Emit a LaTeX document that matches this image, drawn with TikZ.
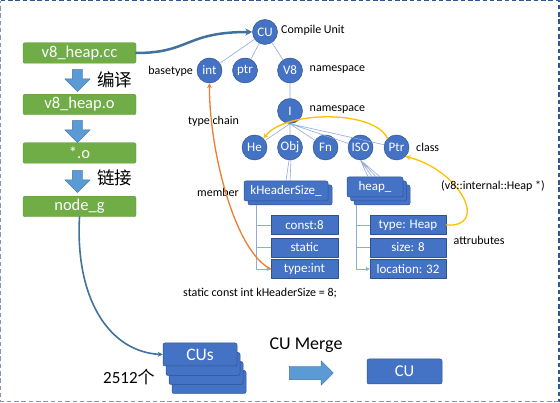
\documentclass[tikz,border=0pt]{standalone}
\usepackage{fontspec}
\setmainfont{Carlito}
\newfontfamily\cjk{Noto Sans CJK SC}
\usetikzlibrary{shapes.arrows,arrows.meta}

\definecolor{cuBlue}{HTML}{4472C4}
\definecolor{cuEdge}{HTML}{2F528F}
\definecolor{fileGreen}{HTML}{70AD47}
\definecolor{fileEdge}{HTML}{5E9A3A}
\definecolor{arrowBlue}{HTML}{5B9BD5}
\definecolor{arrowEdge}{HTML}{41719C}
\definecolor{treeBlue}{HTML}{8FAADC}
\definecolor{chainOrange}{HTML}{ED7D31}
\definecolor{ptrYellow}{HTML}{FFC000}
\definecolor{frameBlue}{HTML}{2F5597}
\definecolor{frameGrey}{HTML}{8497B0}

\tikzset{
  srcfile/.style={draw=fileEdge, fill=fileGreen, rounded corners=2pt, minimum width=113pt,
    minimum height=20.5pt, inner sep=0pt, text=white, font=\fontsize{16.5}{18}\selectfont},
  buildarrow/.style={single arrow, shape border rotate=270, draw=arrowEdge, fill=arrowBlue,
    line width=0.4pt, inner sep=5pt, single arrow head extend=7.5pt, minimum height=22pt},
  mergearrow/.style={single arrow, draw=arrowEdge, fill=arrowBlue, line width=0.4pt,
    inner sep=6.5pt, single arrow head extend=5.5pt, minimum height=44pt},
  dwarf/.style={circle, draw=cuEdge, fill=cuBlue, line width=0.5pt, minimum size=25pt,
    inner sep=0pt, text=white, font=\fontsize{13}{14}\selectfont},
  stackbox/.style={draw=cuEdge, fill=cuBlue, rounded corners=2pt, line width=0.5pt,
    inner sep=0pt, text=white, font=\fontsize{13}{14}\selectfont},
  attrbox/.style={draw=cuEdge, fill=cuBlue, line width=0.5pt, minimum height=19pt,
    inner sep=0pt, text=white, font=\fontsize{13}{14}\selectfont},
  treeline/.style={draw=treeBlue, line width=0.6pt},
  note/.style={anchor=west, inner sep=0pt},
}

\begin{document}
\begin{tikzpicture}[x=1pt, y=-1pt, font=\fontsize{12}{14}\selectfont, line join=round,
  line cap=round, >={Stealth[length=5pt,width=5pt]}]
\useasboundingbox (0,0) rectangle (560,403);

% frame
\draw[frameBlue, line width=1.4pt, line cap=butt, dash pattern=on 4.5pt off 2.8pt]
  (0.8,0.8) -- (558.8,0.8) -- (558.8,401.6);
\draw[frameGrey, line width=1.4pt, line cap=butt, dash pattern=on 4.5pt off 2.8pt]
  (558.8,401.6) -- (0.8,401.6) -- (0.8,0.8);

% build chain
\node[srcfile] (srcCC) at (79.5,53) {v8\_heap.cc};
\node[srcfile] (srcO) at (79.5,104.5) {v8\_heap.o};
\node[srcfile] (srcAll) at (79.5,153) {*.o};
\node[srcfile] (srcBin) at (79.5,206.5) {node\_g};
\node[buildarrow] (step1) at (77.5,78) {};
\node[buildarrow] (step2) at (77.5,129) {};
\node[buildarrow] (step3) at (77.5,179) {};
\node[note, font={\cjk\fontsize{17.5}{19}\selectfont}] (compileTxt) at (97,80) {编译};
\node[note, font={\cjk\fontsize{17.5}{19}\selectfont}] (linkTxt) at (97,178) {链接};

% DIE tree
\node[dwarf] (cu) at (265,32) {CU};
\node[dwarf] (basInt) at (209.5,70.5) {int};
\node[dwarf] (basPtr) at (245,70.5) {ptr};
\node[dwarf] (nsV8) at (290,70.5) {V8};
\node[dwarf] (nsI) at (290,111) {I};
\node[dwarf] (clsHe) at (254.5,147.5) {He};
\node[dwarf] (clsObj) at (290,147.5) {Obj};
\node[dwarf] (clsFn) at (325.5,147.5) {Fn};
\node[dwarf] (clsISO) at (360.5,147.5) {ISO};
\node[dwarf] (clsPtr) at (396.5,147.5) {Ptr};

\node[note] (cuTxt) at (281,30.5) {Compile Unit};
\node[note, anchor=east] (baseTxt) at (193,71) {basetype};
\node[note] (ns1Txt) at (309.5,69.5) {namespace};
\node[note] (ns2Txt) at (309.5,109.5) {namespace};
\node[note] (clsTxt) at (416,147) {class};
\node[note] (chainTxt) at (188,121) {type chain};
\node[note] (memTxt) at (197,192) {member};

\draw[treeline] (cu) -- (basInt) (cu) -- (basPtr) (cu) -- (nsV8) (nsV8) -- (nsI);
\draw[treeline] (nsI.south) -- (clsHe) (nsI.south) -- (clsObj) (nsI.south) -- (clsFn)
  (nsI.south) -- (clsISO) (nsI.south) -- (clsPtr);

% members
\node[stackbox, minimum width=84pt, minimum height=20pt] (memK1) at (290,195) {};
\node[stackbox, minimum width=84pt, minimum height=20pt] (memK) at (286,191) {kHeaderSize\_};
\node[stackbox, minimum width=56pt, minimum height=20pt] (memH2) at (382,195) {};
\node[stackbox, minimum width=56pt, minimum height=20pt] (memH1) at (378.5,191) {};
\node[stackbox, minimum width=56pt, minimum height=20pt] (memH) at (375,187) {heap\_};

\draw[treeline] ([xshift=-1pt]clsObj.south) -- ([xshift=0pt]memK.north)
  ([xshift=1pt]clsObj.south) -- ([xshift=4pt]memK.north);
\draw[treeline] (clsISO.south) -- ([xshift=-7pt]memH.north) (clsISO.south) -- ([xshift=-3pt]memH.north)
  (clsISO.south) -- ([xshift=1pt]memH.north) (clsISO.south) -- ([xshift=5pt]memH.north);

% attributes
\node[attrbox, minimum width=67pt] (attConst) at (304.5,225) {const:8};
\node[attrbox, minimum width=67pt] (attStatic) at (304.5,247.5) {static};
\node[attrbox, minimum width=67pt] (attType) at (304.5,269) {type:int};
\node[attrbox, minimum width=76pt] (attHType) at (408,225) {type: Heap};
\node[attrbox, minimum width=76pt] (attHSize) at (408,247.5) {size: 8};
\node[attrbox, minimum width=76pt] (attHLoc) at (408,269) {location: 32};

\coordinate (kTrunk) at ([xshift=9pt]memK1.south west);
\coordinate (hTrunk) at ([xshift=3pt]memH2.south west);
\draw[treeline] (kTrunk) |- (attConst.west) (kTrunk) |- (attStatic.west);
\draw[treeline, -{Triangle[length=4pt,width=4pt]}] (kTrunk) |- (attType.west);
\draw[treeline] (hTrunk) |- (attHType.west) (hTrunk) |- (attHSize.west);
\draw[treeline, -{Triangle[length=4pt,width=4pt]}] (hTrunk) |- (attHLoc.west);

\node[note] (attrTxt) at (453.5,240) {attrubutes};
\node[note] (declTxt) at (183,293) {static const int kHeaderSize = 8;};

% links
\draw[chainOrange, line width=1.3pt, ->] (attType.west) .. controls (235,252) and (209,150) .. (basInt.south);
\draw[ptrYellow, line width=1.3pt, ->] (clsPtr.north west) .. controls (375,110) and (285,110) .. (clsHe.north east);
\draw[ptrYellow, line width=1.3pt, ->] (attHType.east) .. controls (490,228) and (460,170) .. (clsPtr.south east);
\node[note] (ptrTxt) at (441,186) {(v8::internal::Heap *)};

\draw[arrowEdge, line width=2.5pt, -{Stealth[length=7pt,width=7pt]}] (srcCC.east) .. controls (190,53) and (185,32) .. (cu.west);

% merge
\node[stackbox, minimum width=74pt, minimum height=23pt] (cus3) at (209,382) {};
\node[stackbox, minimum width=74pt, minimum height=23pt] (cus2) at (206,373) {};
\node[stackbox, minimum width=74pt, minimum height=23pt] (cus1) at (203,364) {};
\node[stackbox, minimum width=74pt, minimum height=23pt, font=\fontsize{17.5}{19}\selectfont] (cus) at (200,354.5) {CUs};
\draw[arrowEdge, line width=1.6pt, ->] (srcBin.south) .. controls (75,300) and (110,352) .. (cus.west);
\node[note, font=\fontsize{17}{19}\selectfont] (countTxt) at (103,377) {2512{\cjk 个}};
\node[mergearrow] (mergeArrow) at (308,373) {};
\node[font=\fontsize{18}{20}\selectfont] (mergeTxt) at (306,345) {CU Merge};
\node[stackbox, minimum width=75pt, minimum height=25pt, font=\fontsize{16.5}{18}\selectfont] (cuAll) at (404.5,371.5) {CU};
\end{tikzpicture}
\end{document}
